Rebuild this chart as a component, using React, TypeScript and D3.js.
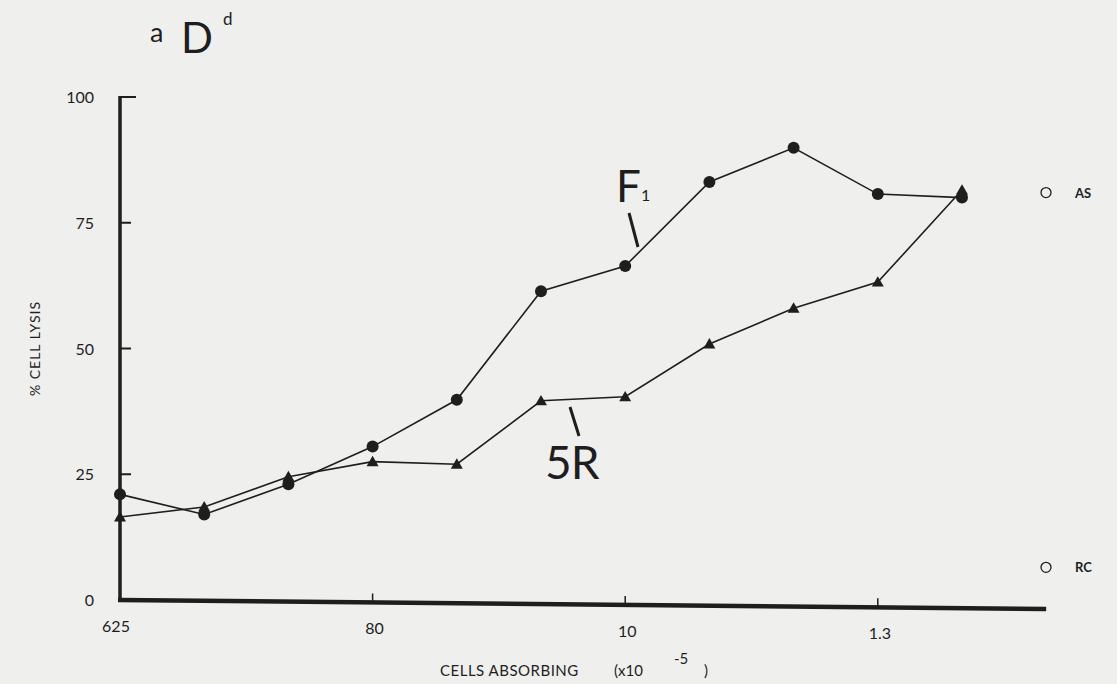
import React from "react";
import * as d3 from "d3";

// Twofold dilution steps of absorbing cells; labelled ticks every third step
const steps = [0, 1, 2, 3, 4, 5, 6, 7, 8, 9, 10];
const tickSteps = [0, 3, 6, 9];
const tickLabels = ["625", "80", "10", "1.3"];
const yTicks = [0, 25, 50, 75, 100];

// % cell lysis after absorption
const f1Values = [21, 17, 23, 30.5, 39.8, 61.4, 66.4, 83.1, 89.9, 80.7, 80];
const r5Values = [16.5, 18.5, 24.5, 27.5, 27, 39.6, 40.4, 50.9, 58, 63.2, 81.5];

// Unabsorbed reference sera
const controlLabels = ["AS", "RC"];
const controlValues = [81, 6.5];

const W = 1117;
const H = 684;
const ink = "#1e1e1e";
const font = "Lato, 'Noto Sans', sans-serif";

export default function App() {
  const x = d3.scaleLinear().domain([0, 10]).range([120, 962]);
  const y = d3.scaleLinear().domain([0, 100]).range([600, 97]);
  const xEnd = x(11);

  const line = d3
    .line<number>()
    .x((_, i) => x(steps[i]))
    .y((d) => y(d));

  const tri = d3.symbol().type(d3.symbolTriangle).size(62)();

  // x axis drifts slightly downward to the right
  const axisDrop = 9;
  const axisY = (px: number) => y(0) + ((px - x(0)) / (xEnd - x(0))) * axisDrop;

  return (
    <svg
      width={W}
      height={H}
      style={{ position: "absolute", left: 0, top: 0, display: "block" }}
      fontFamily={font}
    >
      <rect width={W} height={H} fill="#efefee" />

      {/* panel title */}
      <text x={150} y={42} fontSize={27} fill={ink}>a</text>
      <text x={181} y={53} fontSize={42} fill={ink}>D</text>
      <text x={223} y={25} fontSize={17} fill={ink}>d</text>

      {/* y axis */}
      <line x1={x(0)} x2={x(0)} y1={y(100) - 1} y2={axisY(x(0)) + 2} stroke={ink} strokeWidth={3.5} />
      {yTicks.map((t) => (
        <g key={t}>
          {t > 0 && (
            <line x1={x(0)} x2={x(0) + (t === 100 ? 16 : 11)} y1={y(t)} y2={y(t)} stroke={ink} strokeWidth={2} />
          )}
          <text x={94} y={y(t) + 6} fontSize={16} textAnchor="end" fill={ink}>
            {t}
          </text>
        </g>
      ))}
      <text
        transform={`translate(40, ${y(50)}) rotate(-90)`}
        fontSize={14}
        textAnchor="middle"
        fill={ink}
        letterSpacing={1}
      >
        % CELL LYSIS
      </text>

      {/* x axis */}
      <line x1={x(0) - 2} x2={xEnd} y1={axisY(x(0))} y2={axisY(xEnd)} stroke={ink} strokeWidth={4.5} />
      {tickSteps.map((s, i) => (
        <g key={s}>
          {i > 0 && (
            <line x1={x(s)} x2={x(s)} y1={axisY(x(s)) - 9} y2={axisY(x(s))} stroke={ink} strokeWidth={1.5} />
          )}
          <text x={x(s) + (i === 0 ? -4 : 2)} y={axisY(x(s)) + 32} fontSize={16} textAnchor="middle" fill={ink}>
            {tickLabels[i]}
          </text>
        </g>
      ))}
      <text x={440} y={676} fontSize={15} fill={ink} letterSpacing={0.5}>
        CELLS ABSORBING
      </text>
      <text x={614} y={676} fontSize={15} fill={ink}>(x10</text>
      <text x={674} y={664} fontSize={15} fill={ink}>-5</text>
      <text x={704} y={676} fontSize={15} fill={ink}>)</text>

      {/* series lines */}
      <path d={line(r5Values) || ""} fill="none" stroke={ink} strokeWidth={1.6} />
      <path d={line(f1Values) || ""} fill="none" stroke={ink} strokeWidth={1.6} />

      {/* 5R triangles */}
      {r5Values.map((v, i) => (
        <path key={`t${i}`} d={tri || ""} transform={`translate(${x(steps[i])}, ${y(v) + 1})`} fill={ink} />
      ))}
      {/* F1 circles */}
      {f1Values.map((v, i) => (
        <circle key={`c${i}`} cx={x(steps[i])} cy={y(v)} r={6} fill={ink} />
      ))}

      {/* curve labels with leaders */}
      <text x={616} y={202} fontSize={44} fill={ink}>F</text>
      <text x={641} y={201} fontSize={16} fill={ink}>1</text>
      <line x1={629} y1={213} x2={638} y2={247} stroke={ink} strokeWidth={3} />

      <text x={545} y={479} fontSize={46} fill={ink} letterSpacing={-1}>5R</text>
      <line x1={570} y1={407} x2={579} y2={436} stroke={ink} strokeWidth={3} />

      {/* reference sera */}
      {controlValues.map((v, i) => (
        <g key={controlLabels[i]}>
          <circle cx={1046} cy={y(v)} r={5} fill="none" stroke={ink} strokeWidth={1.3} />
          <text x={1075} y={y(v) + 5} fontSize={13} fontWeight={700} fill={ink}>
            {controlLabels[i]}
          </text>
        </g>
      ))}
    </svg>
  );
}
